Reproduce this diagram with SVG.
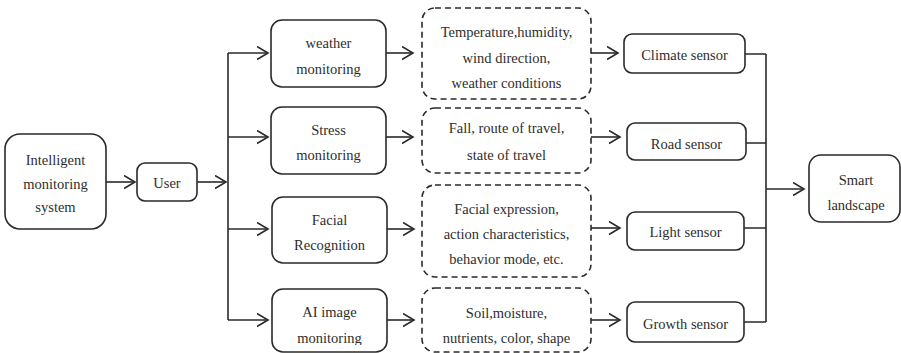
<svg xmlns="http://www.w3.org/2000/svg" width="901" height="353" viewBox="0 0 901 353">
  <style>
    .box { fill: #fff; stroke: #2a2a2a; stroke-width: 1.6; }
    .dash { fill: #fff; stroke: #2a2a2a; stroke-width: 1.6; stroke-dasharray: 6 4; }
    .line { fill: none; stroke: #2a2a2a; stroke-width: 1.6; }
    text { font-family: "Liberation Serif", "Times New Roman", serif; font-size: 14.5px; fill: #2e2e2e; text-anchor: middle; }
  </style>
  <defs>
    <marker id="arrow" markerUnits="userSpaceOnUse" markerWidth="14" markerHeight="16" refX="11" refY="7" orient="auto">
      <path d="M0,0.5 L11,7 L0,13.5" fill="none" stroke="#2a2a2a" stroke-width="1.6"/>
    </marker>
    <clipPath id="bottomClip">
      <rect x="0" y="0" width="901" height="345"/>
    </clipPath>
  </defs>
  <rect width="901" height="353" fill="#fff"/>

  <!-- connectors -->
  <g id="connectors">
    <path class="line" d="M106,182 H135" marker-end="url(#arrow)"/>
    <path class="line" d="M197,182 H226" marker-end="url(#arrow)"/>
    <path class="line" d="M228,53 V320"/>
    <path class="line" d="M228,53 H268" marker-end="url(#arrow)"/>
    <path class="line" d="M228,137 H268" marker-end="url(#arrow)"/>
    <path class="line" d="M228,229 H268" marker-end="url(#arrow)"/>
    <path class="line" d="M228,320 H268" marker-end="url(#arrow)"/>
    <path class="line" d="M386,53 H413" marker-end="url(#arrow)"/>
    <path class="line" d="M386,137 H413" marker-end="url(#arrow)"/>
    <path class="line" d="M387,229 H414" marker-end="url(#arrow)"/>
    <path class="line" d="M387,320 H414" marker-end="url(#arrow)"/>
    <path class="line" d="M591,53 H618" marker-end="url(#arrow)"/>
    <path class="line" d="M591,137 H620" marker-end="url(#arrow)"/>
    <path class="line" d="M591,228 H620" marker-end="url(#arrow)"/>
    <path class="line" d="M591,320 H620" marker-end="url(#arrow)"/>
    <path class="line" d="M745,54 H766 M746,143 H766 M744,228 H766 M744,322 H766 M766,54 V322"/>
    <path class="line" d="M766,189 H804" marker-end="url(#arrow)"/>
  </g>

  <!-- nodes -->
  <g id="intelligent-system">
    <rect class="box" x="5" y="134" width="101" height="95" rx="15"/>
    <text x="55.5" y="165">Intelligent</text>
    <text x="55.5" y="188.5">monitoring</text>
    <text x="55.5" y="212">system</text>
  </g>
  <g id="user">
    <rect class="box" x="137" y="163" width="60" height="38" rx="8"/>
    <text x="167" y="188">User</text>
  </g>

  <g id="weather-monitoring">
    <rect class="box" x="271" y="20" width="115" height="67" rx="11"/>
    <text x="328.5" y="48">weather</text>
    <text x="328.5" y="74">monitoring</text>
  </g>
  <g id="stress-monitoring">
    <rect class="box" x="271" y="107" width="115" height="67" rx="11"/>
    <text x="328.5" y="135">Stress</text>
    <text x="328.5" y="160">monitoring</text>
  </g>
  <g id="facial-recognition">
    <rect class="box" x="272" y="197" width="115" height="66" rx="11"/>
    <text x="329.5" y="225">Facial</text>
    <text x="329.5" y="250">Recognition</text>
  </g>
  <g id="ai-image-monitoring">
    <rect class="box" x="272" y="289" width="115" height="63" rx="11"/>
    <text x="329.5" y="317">AI image</text>
    <text x="329.5" y="343" clip-path="url(#bottomClip)">monitoring</text>
  </g>

  <g id="weather-data">
    <rect class="dash" x="422" y="8" width="169" height="91" rx="13"/>
    <text x="506.5" y="37">Temperature,humidity,</text>
    <text x="506.5" y="63">wind direction,</text>
    <text x="506.5" y="88">weather conditions</text>
  </g>
  <g id="travel-data">
    <rect class="dash" x="422" y="108" width="169" height="65" rx="13"/>
    <text x="506.5" y="133">Fall, route of travel,</text>
    <text x="506.5" y="160">state of travel</text>
  </g>
  <g id="behaviour-data">
    <rect class="dash" x="422" y="185" width="169" height="92" rx="13"/>
    <text x="506.5" y="214">Facial expression,</text>
    <text x="506.5" y="239">action characteristics,</text>
    <text x="506.5" y="264">behavior mode, etc.</text>
  </g>
  <g id="growth-data">
    <rect class="dash" x="422" y="288" width="169" height="64" rx="13"/>
    <text x="506.5" y="318">Soil,moisture,</text>
    <text x="506.5" y="343">nutrients, color, shape</text>
  </g>

  <g id="climate-sensor">
    <rect class="box" x="624" y="34" width="121" height="39" rx="8"/>
    <text x="684.5" y="60">Climate sensor</text>
  </g>
  <g id="road-sensor">
    <rect class="box" x="627" y="123" width="119" height="37" rx="8"/>
    <text x="686.5" y="149">Road sensor</text>
  </g>
  <g id="light-sensor">
    <rect class="box" x="627" y="212" width="117" height="38" rx="8"/>
    <text x="685.5" y="237">Light sensor</text>
  </g>
  <g id="growth-sensor">
    <rect class="box" x="627" y="302" width="117" height="40" rx="8"/>
    <text x="685.5" y="329">Growth sensor</text>
  </g>

  <g id="smart-landscape">
    <rect class="box" x="809" y="155" width="91" height="67" rx="12"/>
    <text x="856" y="185">Smart</text>
    <text x="856" y="210">landscape</text>
  </g>
</svg>
